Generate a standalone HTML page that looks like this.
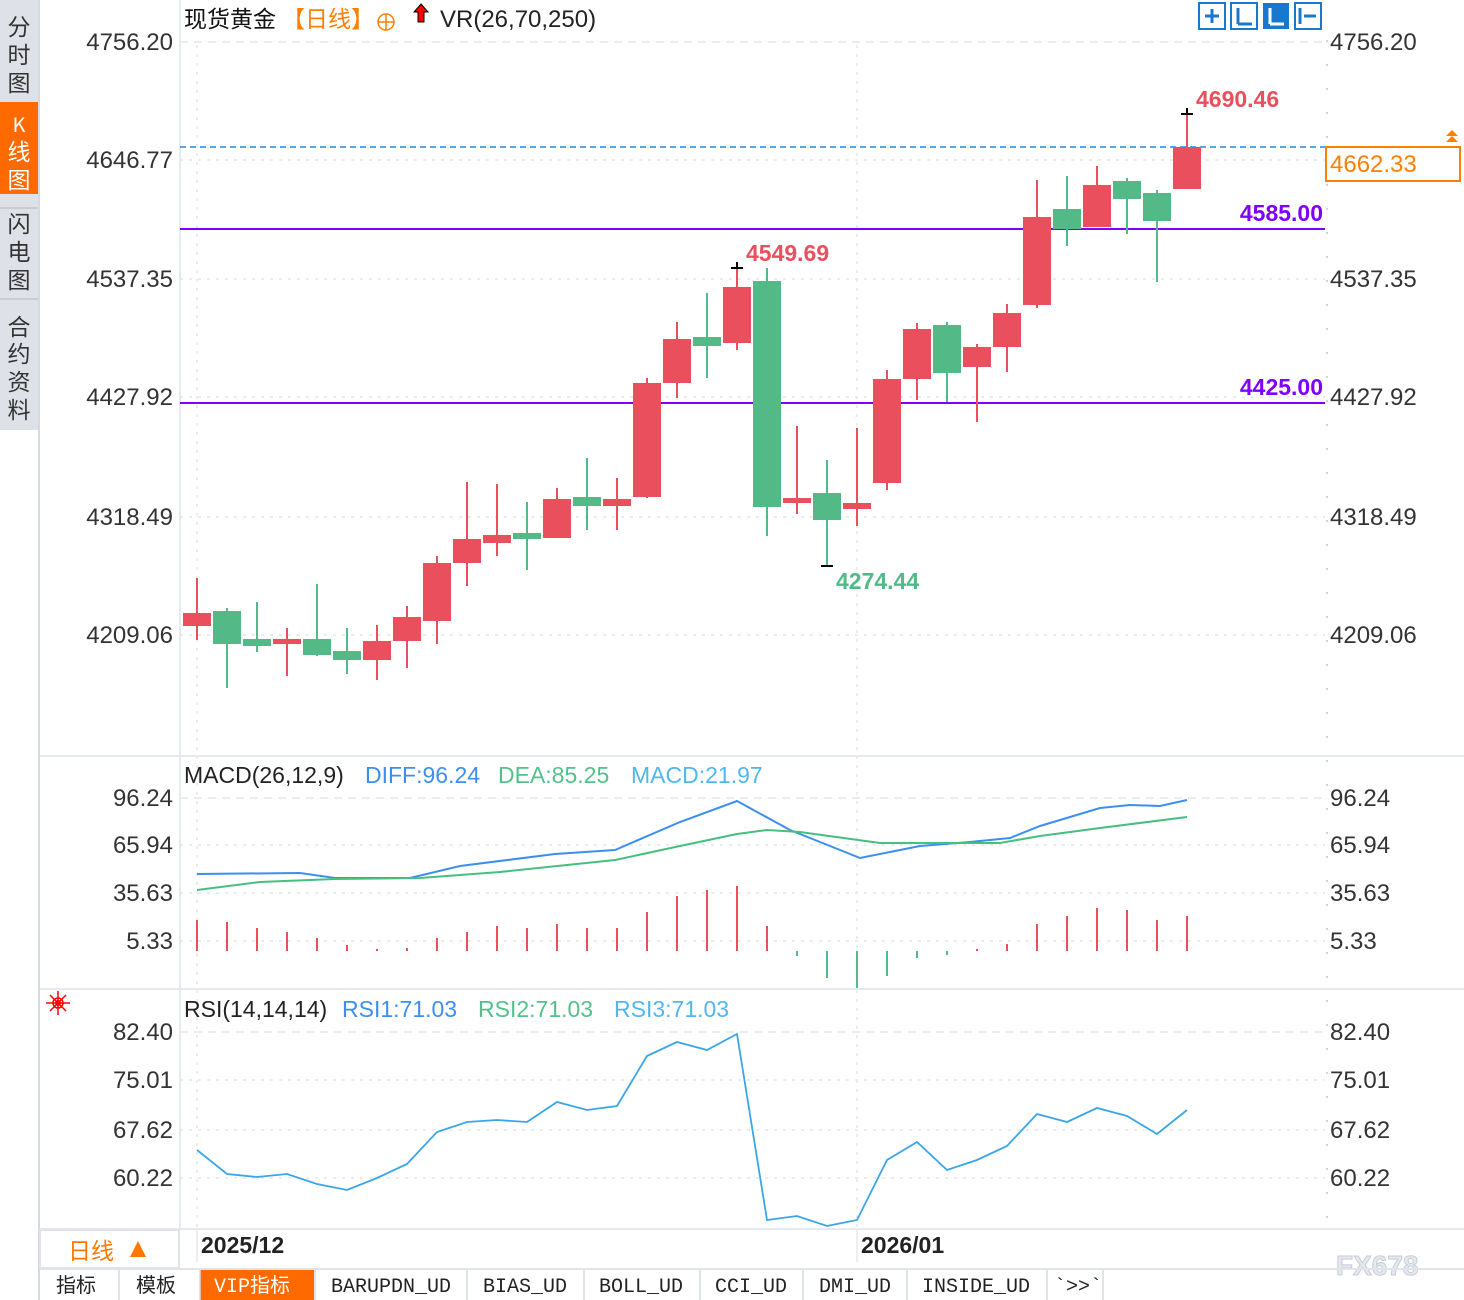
<!DOCTYPE html>
<html><head><meta charset="utf-8"><style>
html,body{margin:0;padding:0;background:#fff;}
svg{display:block;font-family:"Liberation Sans","Noto Sans CJK SC",sans-serif;}
</style></head><body>
<svg width="1464" height="1300" viewBox="0 0 1464 1300" xmlns="http://www.w3.org/2000/svg">
<rect width="1464" height="1300" fill="#fff"/>
<rect x="0" y="0" width="39" height="430" fill="#dfe1e8"/>
<rect x="0" y="102" width="38" height="92" fill="#ff6a00"/>
<line x1="0" y1="208" x2="39" y2="208" stroke="#c9ccd4" stroke-width="2"/>
<line x1="0" y1="299" x2="39" y2="299" stroke="#c9ccd4" stroke-width="2"/>
<line x1="39" y1="0" x2="39" y2="1300" stroke="#d5d9e0" stroke-width="2"/>
<g font-size="23" fill="#333" text-anchor="middle" font-family="'Noto Sans CJK SC',sans-serif">
<text x="19" y="35">分</text><text x="19" y="63">时</text><text x="19" y="91">图</text>
<text x="19" y="132" fill="#fff" font-size="20">K</text><text x="19" y="160" fill="#fff">线</text><text x="19" y="188" fill="#fff">图</text>
<text x="19" y="232">闪</text><text x="19" y="260">电</text><text x="19" y="288">图</text>
<text x="19" y="335">合</text><text x="19" y="362">约</text><text x="19" y="390">资</text><text x="19" y="418">料</text>
</g>
<line x1="180" y1="0" x2="180" y2="1230" stroke="#e6eaef" stroke-width="2"/>
<line x1="40" y1="756" x2="1464" y2="756" stroke="#e6eaef" stroke-width="2"/>
<line x1="40" y1="989" x2="1464" y2="989" stroke="#e6eaef" stroke-width="2"/>
<line x1="40" y1="1229" x2="1464" y2="1229" stroke="#e6eaef" stroke-width="2"/>
<line x1="1327" y1="40" x2="1327" y2="1228" stroke="#cfd5dd" stroke-width="2" stroke-dasharray="2,22"/>
<g stroke="#e3e7ec" stroke-width="1.5" stroke-dasharray="3,6">
<line x1="180" y1="42" x2="1325" y2="42" stroke-dasharray="8,6"/>
<line x1="180" y1="160" x2="1325" y2="160"/><line x1="180" y1="279" x2="1325" y2="279"/>
<line x1="180" y1="397" x2="1325" y2="397"/><line x1="180" y1="517" x2="1325" y2="517"/>
<line x1="180" y1="635" x2="1325" y2="635"/>
<line x1="180" y1="798" x2="1325" y2="798" stroke-dasharray="8,6"/>
<line x1="180" y1="845" x2="1325" y2="845"/><line x1="180" y1="893" x2="1325" y2="893"/>
<line x1="180" y1="941" x2="1325" y2="941"/>
<line x1="180" y1="1032" x2="1325" y2="1032" stroke-dasharray="8,6"/>
<line x1="180" y1="1080" x2="1325" y2="1080"/><line x1="180" y1="1130" x2="1325" y2="1130"/>
<line x1="180" y1="1178" x2="1325" y2="1178"/>
<line x1="197" y1="45" x2="197" y2="1228"/><line x1="857" y1="45" x2="857" y2="1228"/>
</g>
<g font-size="24" fill="#333" text-anchor="end">
<text x="173" y="50">4756.20</text><text x="173" y="168">4646.77</text><text x="173" y="287">4537.35</text>
<text x="173" y="405">4427.92</text><text x="173" y="525">4318.49</text><text x="173" y="643">4209.06</text>
<text x="173" y="806">96.24</text><text x="173" y="853">65.94</text><text x="173" y="901">35.63</text><text x="173" y="949">5.33</text>
<text x="173" y="1040">82.40</text><text x="173" y="1088">75.01</text><text x="173" y="1138">67.62</text><text x="173" y="1186">60.22</text>
</g>
<g font-size="24" fill="#333">
<text x="1330" y="50">4756.20</text><text x="1330" y="287">4537.35</text>
<text x="1330" y="405">4427.92</text><text x="1330" y="525">4318.49</text><text x="1330" y="643">4209.06</text>
<text x="1330" y="806">96.24</text><text x="1330" y="853">65.94</text><text x="1330" y="901">35.63</text><text x="1330" y="949">5.33</text>
<text x="1330" y="1040">82.40</text><text x="1330" y="1088">75.01</text><text x="1330" y="1138">67.62</text><text x="1330" y="1186">60.22</text>
</g>
<text x="184" y="27" font-size="23" fill="#111" font-family="'Noto Sans CJK SC',sans-serif">现货黄金</text>
<text x="282" y="27" font-size="23" fill="#ff8000" font-family="'Noto Sans CJK SC',sans-serif">【日线】</text>
<circle cx="386" cy="22" r="8" fill="none" stroke="#ff8000" stroke-width="1.5"/><line x1="378" y1="22" x2="394" y2="22" stroke="#ff8000" stroke-width="1.5"/><line x1="386" y1="14" x2="386" y2="30" stroke="#ff8000" stroke-width="1.5"/>
<path d="M421 4 L428 12 L424 12 L424 22 L418 22 L418 12 L414 12 Z" fill="#f00" stroke="#000" stroke-width="1"/>
<text x="440" y="27" font-size="24" fill="#222">VR(26,70,250)</text>
<g fill="none" stroke="#1878d0" stroke-width="2">
<rect x="1199" y="3" width="26" height="26"/><rect x="1231" y="3" width="26" height="26"/><rect x="1295" y="3" width="26" height="26"/>
</g>
<rect x="1263" y="3" width="26" height="26" fill="#1878d0"/>
<g stroke="#1878d0" stroke-width="3"><line x1="1205" y1="16" x2="1219" y2="16"/><line x1="1212" y1="9" x2="1212" y2="23"/><line x1="1238" y1="8" x2="1238" y2="24"/><line x1="1238" y1="24" x2="1252" y2="24"/><line x1="1300" y1="8" x2="1300" y2="24"/><line x1="1304" y1="16" x2="1316" y2="16"/></g>
<g stroke="#fff" stroke-width="3"><line x1="1270" y1="8" x2="1270" y2="24"/><line x1="1270" y1="24" x2="1284" y2="24"/></g>
<line x1="180" y1="147" x2="1325" y2="147" stroke="#1e88e5" stroke-width="1.5" stroke-dasharray="6,4"/>
<line x1="180" y1="229" x2="1325" y2="229" stroke="#8000ff" stroke-width="2"/>
<line x1="180" y1="403" x2="1325" y2="403" stroke="#8000ff" stroke-width="2"/>
<g font-size="23" fill="#8000ff" text-anchor="end" font-weight="bold"><text x="1323" y="221">4585.00</text><text x="1323" y="395">4425.00</text></g>
<rect x="1326" y="147" width="134" height="34" fill="#fff" stroke="#ff8000" stroke-width="2"/>
<text x="1330" y="172" font-size="24" fill="#ff8000">4662.33</text>
<path d="M1452 130 L1458 136 L1446 136 Z M1452 136 L1458 142 L1446 142 Z" fill="#ff8000"/>
<g stroke-width="2">
<g stroke="#ea4f5e" fill="#ea4f5e">
<line x1="197" y1="578" x2="197" y2="640"/><rect x="184" y="614" width="26" height="11"/>
<line x1="287" y1="628" x2="287" y2="676"/><rect x="274" y="640" width="26" height="3"/>
<line x1="377" y1="625" x2="377" y2="680"/><rect x="364" y="642" width="26" height="17"/>
<line x1="407" y1="606" x2="407" y2="668"/><rect x="394" y="618" width="26" height="22"/>
<line x1="437" y1="556" x2="437" y2="644"/><rect x="424" y="564" width="26" height="56"/>
<line x1="467" y1="482" x2="467" y2="586"/><rect x="454" y="540" width="26" height="22"/>
<line x1="497" y1="484" x2="497" y2="556"/><rect x="484" y="536" width="26" height="6"/>
<line x1="557" y1="488" x2="557" y2="538"/><rect x="544" y="500" width="26" height="37"/>
<line x1="617" y1="478" x2="617" y2="530"/><rect x="604" y="500" width="26" height="5"/>
<line x1="647" y1="378" x2="647" y2="498"/><rect x="634" y="384" width="26" height="112"/>
<line x1="677" y1="322" x2="677" y2="398"/><rect x="664" y="340" width="26" height="42"/>
<line x1="737" y1="268" x2="737" y2="350"/><rect x="724" y="288" width="26" height="54"/>
<line x1="797" y1="426" x2="797" y2="514"/><rect x="784" y="499" width="26" height="3"/>
<line x1="857" y1="428" x2="857" y2="526"/><rect x="844" y="504" width="26" height="4"/>
<line x1="887" y1="370" x2="887" y2="490"/><rect x="874" y="380" width="26" height="102"/>
<line x1="917" y1="323" x2="917" y2="400"/><rect x="904" y="330" width="26" height="48"/>
<line x1="977" y1="344" x2="977" y2="422"/><rect x="964" y="348" width="26" height="18"/>
<line x1="1007" y1="304" x2="1007" y2="372"/><rect x="994" y="314" width="26" height="32"/>
<line x1="1037" y1="180" x2="1037" y2="308"/><rect x="1024" y="218" width="26" height="86"/>
<line x1="1097" y1="166" x2="1097" y2="226"/><rect x="1084" y="186" width="26" height="40"/>
<line x1="1187" y1="114" x2="1187" y2="188"/><rect x="1174" y="148" width="26" height="40"/>
</g>
<g stroke="#52b987" fill="#52b987">
<line x1="227" y1="608" x2="227" y2="688"/><rect x="214" y="612" width="26" height="31"/>
<line x1="257" y1="602" x2="257" y2="652"/><rect x="244" y="640" width="26" height="5"/>
<line x1="317" y1="584" x2="317" y2="656"/><rect x="304" y="640" width="26" height="14"/>
<line x1="347" y1="628" x2="347" y2="674"/><rect x="334" y="652" width="26" height="7"/>
<line x1="527" y1="502" x2="527" y2="570"/><rect x="514" y="534" width="26" height="4"/>
<line x1="587" y1="458" x2="587" y2="530"/><rect x="574" y="498" width="26" height="7"/>
<line x1="707" y1="293" x2="707" y2="378"/><rect x="694" y="338" width="26" height="7"/>
<line x1="767" y1="268" x2="767" y2="536"/><rect x="754" y="282" width="26" height="224"/>
<line x1="827" y1="460" x2="827" y2="566"/><rect x="814" y="494" width="26" height="25"/>
<line x1="947" y1="322" x2="947" y2="402"/><rect x="934" y="326" width="26" height="46"/>
<line x1="1067" y1="176" x2="1067" y2="246"/><rect x="1054" y="210" width="26" height="18"/>
<line x1="1127" y1="178" x2="1127" y2="234"/><rect x="1114" y="182" width="26" height="16"/>
<line x1="1157" y1="190" x2="1157" y2="282"/><rect x="1144" y="194" width="26" height="26"/>
</g>
</g>
<g stroke="#000" stroke-width="2"><line x1="731" y1="268" x2="743" y2="268"/><line x1="737" y1="262" x2="737" y2="268"/><line x1="821" y1="566" x2="833" y2="566"/><line x1="1181" y1="114" x2="1193" y2="114"/><line x1="1187" y1="108" x2="1187" y2="114"/></g>
<g font-size="23" font-weight="bold">
<text x="746" y="261" fill="#ea4f5e">4549.69</text>
<text x="836" y="589" fill="#52b987">4274.44</text>
<text x="1196" y="107" fill="#ea4f5e">4690.46</text>
</g>
<text x="184" y="783" font-size="23"><tspan fill="#222">MACD(26,12,9)</tspan><tspan x="365" fill="#3c8ff0">DIFF:96.24</tspan><tspan x="498" fill="#52c28a">DEA:85.25</tspan><tspan x="631" fill="#4fb8f0">MACD:21.97</tspan></text>
<g stroke-width="2">
<g stroke="#ea4f5e">
<line x1="197" y1="951" x2="197" y2="920"/><line x1="227" y1="951" x2="227" y2="922"/><line x1="257" y1="951" x2="257" y2="928"/><line x1="287" y1="951" x2="287" y2="932"/><line x1="317" y1="951" x2="317" y2="938"/><line x1="347" y1="951" x2="347" y2="945"/><line x1="377" y1="951" x2="377" y2="949"/><line x1="407" y1="951" x2="407" y2="948"/><line x1="437" y1="951" x2="437" y2="938"/><line x1="467" y1="951" x2="467" y2="932"/><line x1="497" y1="951" x2="497" y2="926"/><line x1="527" y1="951" x2="527" y2="928"/><line x1="557" y1="951" x2="557" y2="924"/><line x1="587" y1="951" x2="587" y2="928"/><line x1="617" y1="951" x2="617" y2="928"/><line x1="647" y1="951" x2="647" y2="912"/><line x1="677" y1="951" x2="677" y2="896"/><line x1="707" y1="951" x2="707" y2="890"/><line x1="737" y1="951" x2="737" y2="886"/><line x1="767" y1="951" x2="767" y2="926"/><line x1="977" y1="951" x2="977" y2="949"/><line x1="1007" y1="951" x2="1007" y2="944"/><line x1="1037" y1="951" x2="1037" y2="924"/><line x1="1067" y1="951" x2="1067" y2="916"/><line x1="1097" y1="951" x2="1097" y2="908"/><line x1="1127" y1="951" x2="1127" y2="910"/><line x1="1157" y1="951" x2="1157" y2="920"/><line x1="1187" y1="951" x2="1187" y2="916"/>
</g>
<g stroke="#52b987">
<line x1="797" y1="951" x2="797" y2="956"/><line x1="827" y1="951" x2="827" y2="978"/><line x1="857" y1="951" x2="857" y2="988"/><line x1="887" y1="951" x2="887" y2="976"/><line x1="917" y1="951" x2="917" y2="958"/><line x1="947" y1="951" x2="947" y2="955"/>
</g>
</g>
<polyline fill="none" stroke="#3c8ff0" stroke-width="2" points="197,874 300,873 335,878 410,878 460,866 555,854 615,850 680,822 737,801 790,830 860,858 920,846 970,842 1010,838 1040,826 1100,808 1130,805 1160,806 1187,800"/>
<polyline fill="none" stroke="#45c07f" stroke-width="2" points="197,890 260,882 335,879 420,878 500,872 615,860 680,846 737,834 767,830 800,832 880,843 1000,843 1040,836 1100,828 1187,817"/>
<g stroke="#f00" stroke-width="1.5" fill="none"><circle cx="58" cy="1003" r="5"/><line x1="46" y1="1003" x2="70" y2="1003"/><line x1="58" y1="991" x2="58" y2="1015"/><line x1="50" y1="995" x2="66" y2="1011"/><line x1="66" y1="995" x2="50" y2="1011"/></g>
<circle cx="58" cy="1003" r="3" fill="#f00"/>
<text x="184" y="1017" font-size="23"><tspan fill="#222">RSI(14,14,14)</tspan><tspan x="342" fill="#3c8ff0">RSI1:71.03</tspan><tspan x="478" fill="#52c28a">RSI2:71.03</tspan><tspan x="614" fill="#4fb8f0">RSI3:71.03</tspan></text>
<polyline fill="none" stroke="#3aa6e8" stroke-width="1.8" points="197,1150 227,1174 257,1177 287,1174 317,1184 347,1190 377,1178 407,1164 437,1132 467,1122 497,1120 527,1122 557,1102 587,1110 617,1106 647,1056 677,1042 707,1050 737,1034 767,1220 797,1216 827,1226 857,1220 887,1160 917,1142 947,1170 977,1160 1007,1146 1037,1114 1067,1122 1097,1108 1127,1116 1157,1134 1187,1110"/>
<rect x="40" y="1230" width="139" height="38" fill="#fff" stroke="#e0e4ea" stroke-width="2"/>
<text x="68" y="1259" font-size="23" fill="#ff7800" font-family="'Noto Sans CJK SC',sans-serif">日线</text>
<path d="M130 1257 L138 1241 L146 1257 Z" fill="#ff7800"/>
<line x1="197" y1="1230" x2="197" y2="1262" stroke="#d8dde4" stroke-width="1"/>
<line x1="857" y1="1230" x2="857" y2="1262" stroke="#d8dde4" stroke-width="1"/>
<g font-size="23" fill="#222" font-weight="bold"><text x="201" y="1253">2025/12</text><text x="861" y="1253">2026/01</text></g>
<text x="1336" y="1275" font-size="28" fill="#e6eaf0" stroke="#c5ccd6" stroke-width="1" font-weight="bold">FX678</text>
<line x1="40" y1="1269" x2="1464" y2="1269" stroke="#e0e4ea" stroke-width="2"/>
<rect x="200" y="1270" width="114" height="30" fill="#ff6a00"/>
<g stroke="#d5dae1" stroke-width="1.5"><line x1="119" y1="1270" x2="119" y2="1300"/><line x1="200" y1="1270" x2="200" y2="1300"/><line x1="315" y1="1270" x2="315" y2="1300"/><line x1="467" y1="1270" x2="467" y2="1300"/><line x1="584" y1="1270" x2="584" y2="1300"/><line x1="700" y1="1270" x2="700" y2="1300"/><line x1="803" y1="1270" x2="803" y2="1300"/><line x1="907" y1="1270" x2="907" y2="1300"/><line x1="1047" y1="1270" x2="1047" y2="1300"/><line x1="1103" y1="1270" x2="1103" y2="1300"/></g>
<g font-size="20" fill="#222" font-family="'Liberation Mono','Noto Sans CJK SC',monospace">
<text x="56" y="1292">指标</text><text x="136" y="1292">模板</text>
<text x="214" y="1292" fill="#fff">VIP指标</text>
<text x="331" y="1292">BARUPDN_UD</text><text x="483" y="1292">BIAS_UD</text><text x="599" y="1292">BOLL_UD</text>
<text x="715" y="1292">CCI_UD</text><text x="819" y="1292">DMI_UD</text><text x="922" y="1292">INSIDE_UD</text>
<text x="1054" y="1292">`&gt;&gt;`</text>
</g>
</svg>
</body></html>
